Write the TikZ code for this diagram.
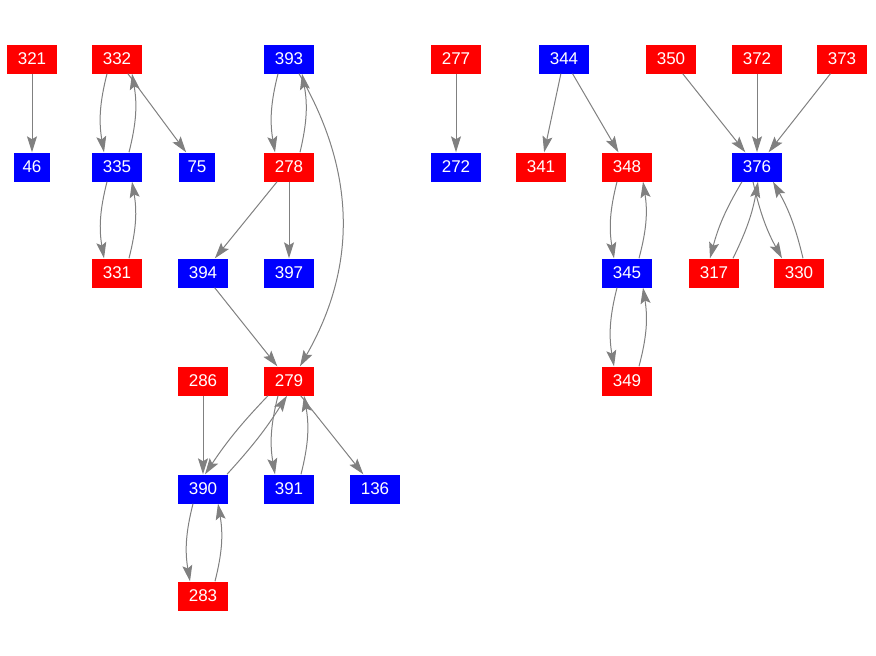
\documentclass[tikz,border=0pt]{standalone}
\usepackage{fontspec}
\setmainfont{Liberation Sans}
\usetikzlibrary{arrows.meta}
\begin{document}
\begin{tikzpicture}[x=1pt,y=-1pt,
  box/.style={minimum width=50pt,minimum height=29pt,inner sep=0pt,text=white,font=\fontsize{17}{17}\selectfont},
  rbox/.style={box,fill=red},
  bbox/.style={box,fill=blue},
  short/.style={minimum width=36pt},
  edge/.style={draw=gray,line width=1pt,-{Stealth[length=16pt,width=10pt,inset=3pt]}}]
\useasboundingbox (0,0) rectangle (876,656);

\node[rbox] (n321) at (32,59) {321};
\node[rbox] (n332) at (117,59) {332};
\node[bbox] (n393) at (289,59) {393};
\node[rbox] (n277) at (456,59) {277};
\node[bbox] (n344) at (564,59) {344};
\node[rbox] (n350) at (671,59) {350};
\node[rbox] (n372) at (757,59) {372};
\node[rbox] (n373) at (842,59) {373};

\node[bbox,short] (n46) at (32,167) {46};
\node[bbox] (n335) at (117,167) {335};
\node[bbox,short] (n75) at (197,167) {75};
\node[rbox] (n278) at (289,167) {278};
\node[bbox] (n272) at (456,167) {272};
\node[rbox] (n341) at (541,167) {341};
\node[rbox] (n348) at (627,167) {348};
\node[bbox] (n376) at (757,167) {376};

\node[rbox] (n331) at (117,273) {331};
\node[bbox] (n394) at (203,273) {394};
\node[bbox] (n397) at (289,273) {397};
\node[bbox] (n345) at (627,273) {345};
\node[rbox] (n317) at (714,273) {317};
\node[rbox] (n330) at (799,273) {330};

\node[rbox] (n286) at (203,381) {286};
\node[rbox] (n279) at (289,381) {279};
\node[rbox] (n349) at (627,381) {349};

\node[bbox] (n390) at (203,489) {390};
\node[bbox] (n391) at (289,489) {391};
\node[bbox] (n136) at (375,489) {136};

\node[rbox] (n283) at (203,596) {283};

\draw[edge] (n321) -- (n46);
\draw[edge] ([xshift=-10pt]n332.south) to[bend right=12] ([xshift=-13pt]n335.north);
\draw[edge] ([xshift=12pt]n335.north) to[bend right=12] ([xshift=15pt]n332.south);
\draw[edge] (n332) -- (n75);
\draw[edge] ([xshift=-10pt]n335.south) to[bend right=12] ([xshift=-13pt]n331.north);
\draw[edge] ([xshift=12pt]n331.north) to[bend right=12] ([xshift=15pt]n335.south);

\draw[edge] ([xshift=-11pt]n393.south) to[bend right=12] ([xshift=-14pt]n278.north);
\draw[edge] ([xshift=11pt]n278.north) to[bend right=12] ([xshift=13pt]n393.south);
\draw[edge] ([xshift=10pt]n393.south) to[bend left=30] ([xshift=11pt]n279.north);
\draw[edge] (n278) -- (n394);
\draw[edge] (n278) -- (n397);
\draw[edge] (n394) -- (n279);

\draw[edge] (n286) -- (n390);
\draw[edge] ([xshift=-21pt]n279.south) to[bend right=5] ([xshift=2pt]n390.north);
\draw[edge] ([xshift=24pt]n390.north) to[bend right=5] ([xshift=-2pt]n279.south);
\draw[edge] ([xshift=-11pt]n279.south) to[bend right=12] ([xshift=-14pt]n391.north);
\draw[edge] ([xshift=12pt]n391.north) to[bend right=12] ([xshift=15pt]n279.south);
\draw[edge] (n279) -- (n136);
\draw[edge] ([xshift=-10pt]n390.south) to[bend right=12] ([xshift=-13pt]n283.north);
\draw[edge] ([xshift=12pt]n283.north) to[bend right=12] ([xshift=15pt]n390.south);

\draw[edge] (n277) -- (n272);
\draw[edge] (n344) -- (n341);
\draw[edge] (n344) -- (n348);
\draw[edge] ([xshift=-10pt]n348.south) to[bend right=12] ([xshift=-13pt]n345.north);
\draw[edge] ([xshift=12pt]n345.north) to[bend right=12] ([xshift=16pt]n348.south);
\draw[edge] ([xshift=-10pt]n345.south) to[bend right=12] ([xshift=-13pt]n349.north);
\draw[edge] ([xshift=12pt]n349.north) to[bend right=12] ([xshift=16pt]n345.south);

\draw[edge] (n350) -- (n376);
\draw[edge] (n372) -- (n376);
\draw[edge] (n373) -- (n376);
\draw[edge] ([xshift=-15pt]n376.south) to[bend right=8] ([xshift=-4pt]n317.north);
\draw[edge] ([xshift=19pt]n317.north) to[bend right=8] ([xshift=1pt]n376.south);
\draw[edge] ([xshift=-4pt]n376.south) to[bend right=8] ([xshift=-17pt]n330.north);
\draw[edge] ([xshift=4pt]n330.north) to[bend right=8] ([xshift=16pt]n376.south);
\end{tikzpicture}
\end{document}
